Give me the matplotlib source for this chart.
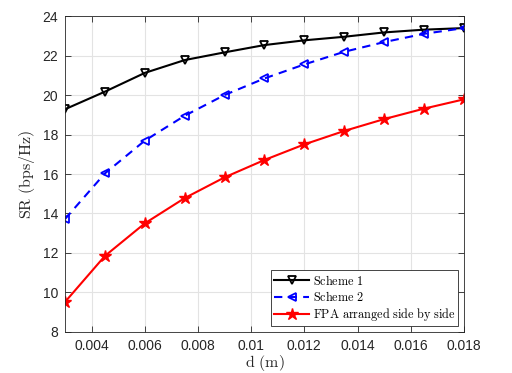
import numpy as np
import matplotlib
matplotlib.use("Agg")
import matplotlib.pyplot as plt

# ── Data ──────────────────────────────────────────────────────────────────────
d_vals = [0.003, 0.0045, 0.006, 0.0075, 0.009, 0.0105, 0.012, 0.0135, 0.015, 0.0165, 0.018]
scheme1 = [19.28, 20.17, 21.12, 21.77, 22.16, 22.53, 22.77, 22.95, 23.17, 23.31, 23.39]
scheme2 = [13.72, 16.03, 17.69, 18.95, 20.0, 20.84, 21.55, 22.19, 22.68, 23.1, 23.39]
fpa = [9.52, 11.85, 13.5, 14.78, 15.83, 16.71, 17.5, 18.18, 18.78, 19.31, 19.78]

xticks = [0.004, 0.006, 0.008, 0.01, 0.012, 0.014, 0.016, 0.018]
xticklabels = ["0.004", "0.006", "0.008", "0.01", "0.012", "0.014", "0.016", "0.018"]
yticks = [8, 10, 12, 14, 16, 18, 20, 22, 24]

# ── Style ─────────────────────────────────────────────────────────────────────
plt.rcParams.update({
    "font.family": "Liberation Sans",
    "mathtext.fontset": "cm",
})
DARK = "#262626"

fig = plt.figure(figsize=(5.12, 3.73), dpi=100)
ax = fig.add_axes([0.127, 0.110, 0.779, 0.847])

ax.plot(d_vals, scheme1, color="black", lw=1.5, marker="v", ms=6,
        mfc="none", mec="black", mew=1.3, label=r"$\mathrm{Scheme\ 1}$")
ax.plot(d_vals, scheme2, color="blue", lw=1.5, ls=(0, (4, 3)), marker="<", ms=6,
        mfc="none", mec="blue", mew=1.3, label=r"$\mathrm{Scheme\ 2}$")
ax.plot(d_vals, fpa, color="red", lw=1.5, marker="*", ms=9,
        mfc="red", mec="red", label=r"$\mathrm{FPA\ arranged\ side\ by\ side}$")

ax.set_xlim(0.003, 0.018)
ax.set_ylim(8, 24)
ax.set_xticks(xticks)
ax.set_xticklabels(xticklabels)
ax.set_yticks(yticks)
ax.grid(True, color="#e3e3e3", lw=0.8)
ax.set_axisbelow(True)
ax.tick_params(direction="in", top=True, right=True, length=4, width=0.6,
               labelsize=10, colors=DARK, labelcolor=DARK, pad=5)
for sp in ax.spines.values():
    sp.set_color(DARK)
    sp.set_linewidth(0.6)

ax.set_xlabel(r"$\mathrm{d\ (m)}$", fontsize=11.5, color=DARK, labelpad=0)
ax.set_ylabel(r"$\mathrm{SR\ (bps/Hz)}$", fontsize=11.5, color=DARK, labelpad=4)

leg = ax.legend(loc="lower right", fontsize=8.8, fancybox=False, framealpha=1,
                edgecolor=DARK, borderpad=0.25, labelspacing=0.2,
                handlelength=2.9, handletextpad=0.3, borderaxespad=0.45)
leg.get_frame().set_linewidth(0.6)

plt.savefig("out.png", dpi=100)
